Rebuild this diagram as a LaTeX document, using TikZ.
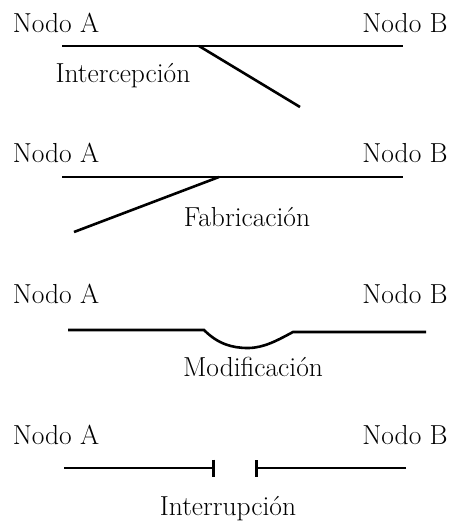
\documentclass[tikz,border=0pt]{standalone}
\usepackage{tikz}
\usetikzlibrary{positioning, arrows.meta}

\begin{document}
\begin{tikzpicture}[x=1pt, y=-1pt, line width=2.6pt]

  \tikzstyle{label}=[font=\fontsize{27.5}{32}\selectfont, anchor=base, inner sep=0]
  \tikzstyle{cut}=[-{Bar[width=17pt, line width=2.6pt]}]

  \useasboundingbox (0,0) rectangle (452,522);

  % Intercepcion
  \node [label] (A-1) at (56,32) {Nodo A};
  \node [label] (B-1) at (405,32) {Nodo B};
  \node [label] (txt-1) at (123,82) {Intercepción};
  \coordinate (l-1) at (62,46);
  \coordinate (r-1) at (403,46);
  \coordinate (k-1) at (199,46);
  \coordinate (e-1) at (300,107);
  \draw (l-1) -- (r-1);
  \draw (k-1) -- (e-1);

  % Fabricacion
  \node [label] (A-2) at (56,162) {Nodo A};
  \node [label] (B-2) at (405,162) {Nodo B};
  \node [label] (txt-2) at (247,226) {Fabricación};
  \coordinate (l-2) at (62,177);
  \coordinate (r-2) at (403,177);
  \coordinate (k-2) at (219,177);
  \coordinate (e-2) at (74,232);
  \draw (l-2) -- (r-2);
  \draw (k-2) -- (e-2);

  % Modificacion
  \node [label] (A-3) at (56,303) {Nodo A};
  \node [label] (B-3) at (405,303) {Nodo B};
  \node [label] (txt-3) at (253,376) {Modificación};
  \coordinate (l-3) at (68,330);
  \coordinate (p-3) at (204,330);
  \coordinate (m-3) at (248,348);
  \coordinate (q-3) at (293,332);
  \coordinate (r-3) at (426,332);
  \draw (l-3) -- (p-3) .. controls (218,344) and (232,348) .. (m-3)
        .. controls (264,348) and (278,340) .. (q-3) -- (r-3);

  % Interrupcion
  \node [label] (A-4) at (56,444) {Nodo A};
  \node [label] (B-4) at (405,444) {Nodo B};
  \node [label] (txt-4) at (228,515) {Interrupción};
  \coordinate (l-4) at (64,468);
  \coordinate (p-4) at (215,468);
  \coordinate (q-4) at (255,468);
  \coordinate (r-4) at (406,468);
  \draw [cut] (l-4) -- (p-4);
  \draw [cut] (r-4) -- (q-4);

\end{tikzpicture}
\end{document}
